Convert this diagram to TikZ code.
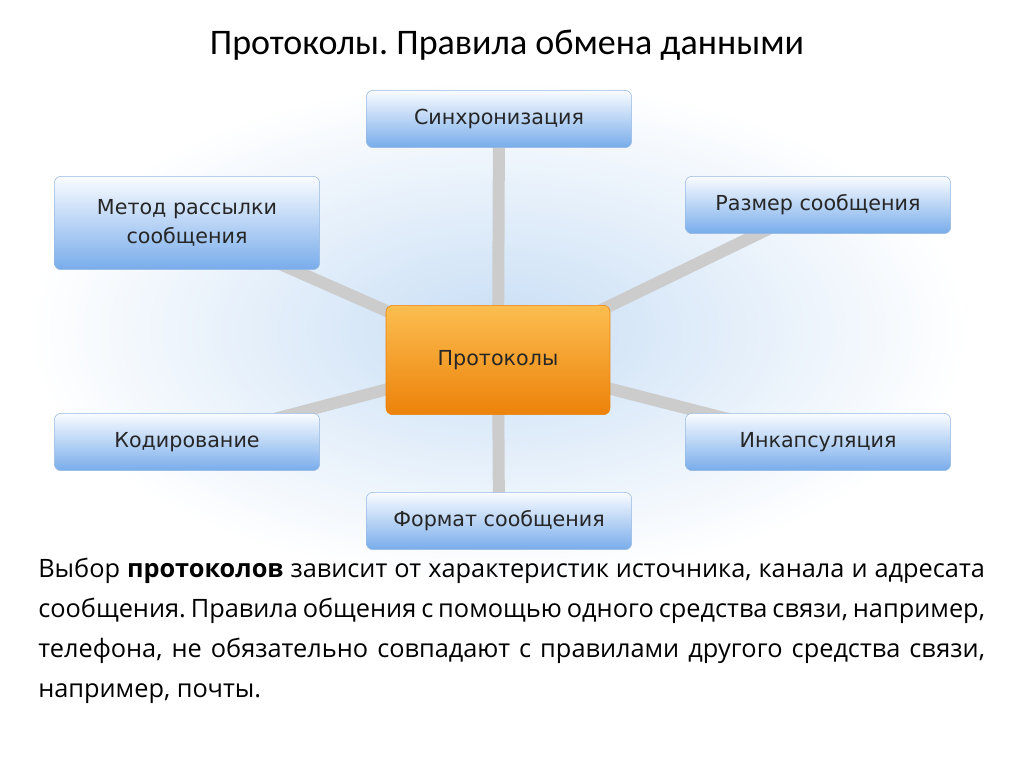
\documentclass[tikz,border=0pt]{standalone}
\usepackage{fontspec}
\setmainfont{Carlito}
\newfontfamily\boxfont{DejaVu Sans}
\newfontfamily\bodyfont{Open Sans}
\usetikzlibrary{positioning}
\definecolor{boxtop}{RGB}{250,252,255}
\definecolor{boxbot}{RGB}{120,172,235}
\definecolor{boxline}{RGB}{150,185,225}
\definecolor{ortop}{RGB}{252,190,80}
\definecolor{orbot}{RGB}{236,130,10}
\definecolor{glow}{RGB}{200,222,245}
\definecolor{spoke}{RGB}{170,170,170}
\tikzset{
    topic box/.style={
        draw=boxline,
        rounded corners=5pt,
        top color=boxtop,
        bottom color=boxbot,
        minimum width=199pt,
        minimum height=43pt,
        align=center,
        font=\boxfont\fontsize{15.5}{22}\selectfont,
        text=black!85
    },
    core box/.style={
        draw=orbot,
        rounded corners=5pt,
        top color=ortop,
        bottom color=orbot,
        minimum width=168pt,
        minimum height=82pt,
        font=\boxfont\fontsize{15.5}{20}\selectfont,
        text=black!85
    },
    spoke/.style={
        line width=9pt,
        spoke!60
    }
}
\begin{document}
\frenchspacing
\begin{tikzpicture}[x=0.75pt,y=-0.75pt]
    \useasboundingbox[fill=white] (0,0) rectangle (1024,767);
    \shade[inner color=glow, outer color=white] (498,330) ellipse (470 and 250);

    \node[font=\fontsize{27}{32}\selectfont] (title) at (507,45) {Протоколы. Правила обмена данными};

    % spokes first, boxes on top
    \coordinate (hub) at (498,360);
    \foreach \x/\y in {499/119,187/223,818/205,187/442,818/442,499/521}
        \draw[spoke] (hub) -- (\x,\y);

    \node[core box] (P) at (hub) {Протоколы};
    \node[topic box] (sync) at (499,119) {Синхронизация};
    \node[topic box, minimum height=70pt] (meth) at (187,223) {Метод рассылки\\сообщения};
    \node[topic box] (size) at (818,205) {Размер сообщения};
    \node[topic box] (code) at (187,442) {Кодирование};
    \node[topic box] (enc) at (818,442) {Инкапсуляция};
    \node[topic box] (form) at (499,521) {Формат сообщения};

    \node[text width=710pt, align=justify, anchor=north west, inner sep=0pt,
          font=\bodyfont\fontsize{19}{30}\selectfont] (body) at (38,558)
    {Выбор \textbf{протоколов} зависит от характеристик источника, канала и~адресата сообщения. Правила общения с~помощью одного средства связи, например, телефона, не обязательно совпадают с~правилами другого средства связи, например, почты.};
\end{tikzpicture}
\end{document}
